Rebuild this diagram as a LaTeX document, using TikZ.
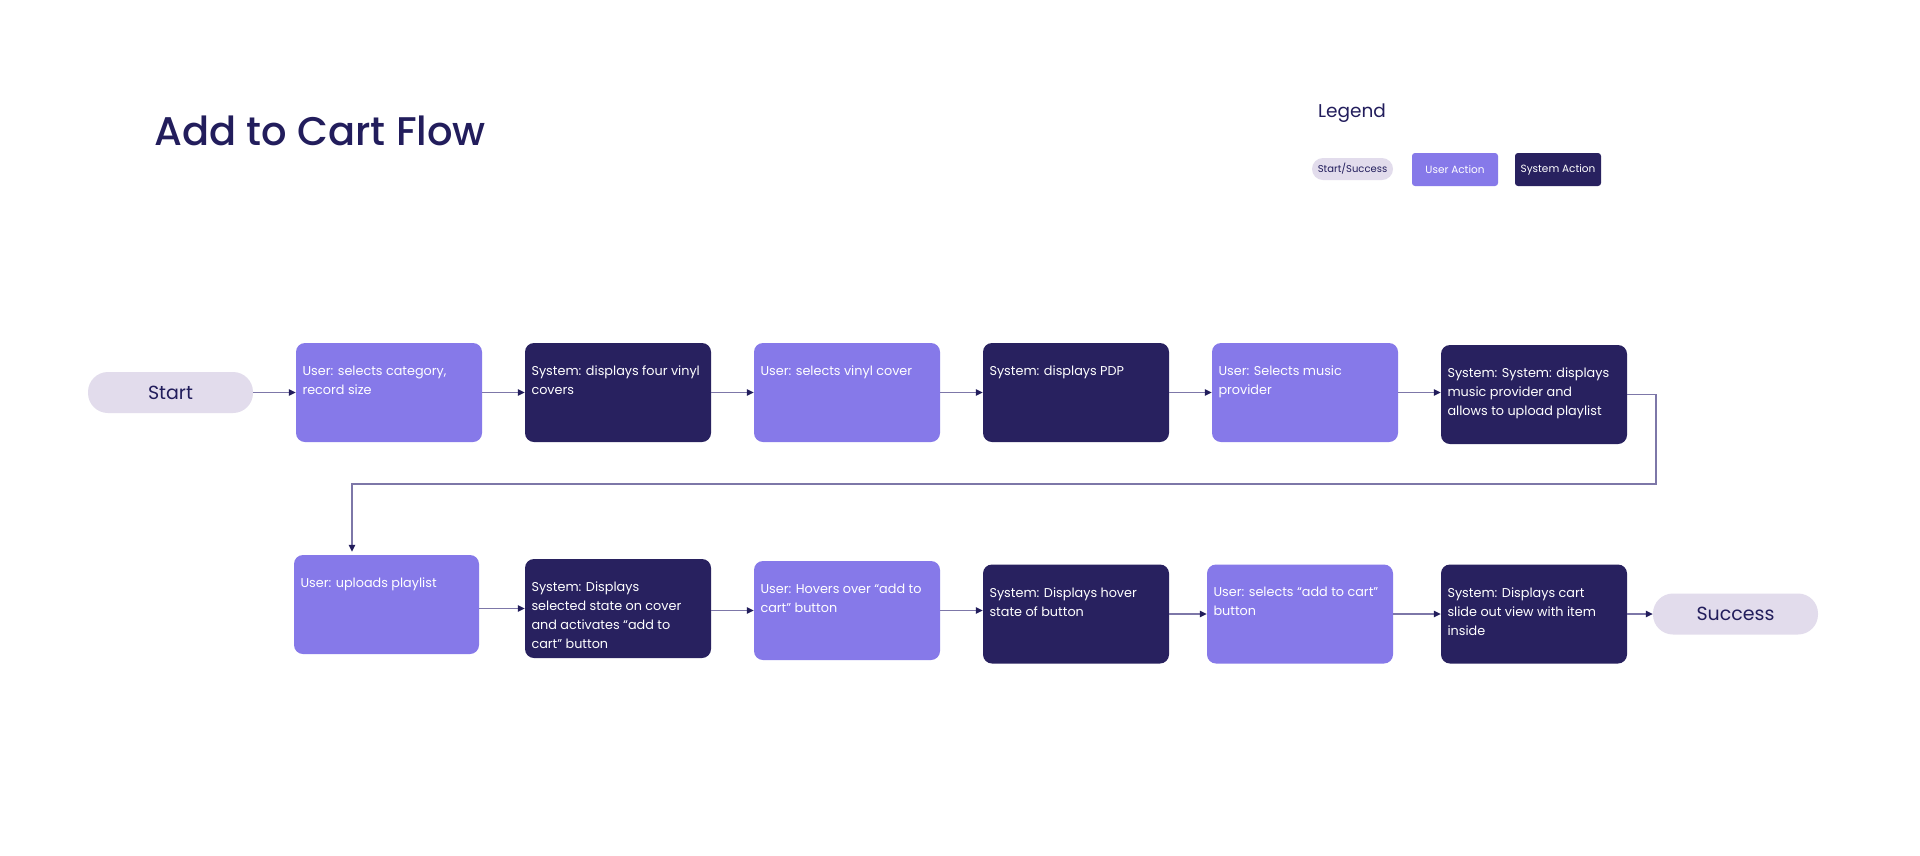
\documentclass[tikz,border=0pt]{standalone}
\usepackage{fontspec}
\setmainfont{Poppins}
\IfFontExistsTF{Poppins Medium}{\newfontfamily\titlefont{Poppins Medium}}{\newfontfamily\titlefont{Poppins}}
\usetikzlibrary{arrows.meta}

\definecolor{userpurple}{HTML}{8679E9}
\definecolor{sysnavy}{HTML}{28215F}
\definecolor{pillgray}{HTML}{E2DCEC}
\definecolor{inknavy}{HTML}{221D5C}
\definecolor{flowline}{HTML}{7D77A8}

\tikzset{
  stepbase/.style = {minimum width=186pt, minimum height=99pt, inner sep=0pt, rounded corners=9pt},
  userbox/.style = {stepbase, fill=userpurple},
  sysbox/.style = {stepbase, fill=sysnavy},
  pill/.style = {fill=pillgray, minimum width=165pt, minimum height=41pt, rounded corners=20pt,
    text=inknavy, font=\fontsize{19}{22}\selectfont},
  boxtext/.style = {anchor=north west, inner sep=0pt, align=left, text=white,
    font=\fontsize{12.8}{19}\selectfont, xshift=6.5pt, yshift=-23pt},
  flow/.style = {draw=flowline, line width=1.3pt,
    -{Triangle[length=7pt,width=6.5pt,color=inknavy]}},
}

\begin{document}
\begin{tikzpicture}[x=1pt, y=-1pt]

  \fill[white] (0,0) rectangle (1920,855);
  \useasboundingbox (0,0) rectangle (1920,855);

  % title and legend
  \node[anchor=base west, inner sep=0pt, text=inknavy, font=\titlefont\fontsize{40}{48}\selectfont] (title) at (154,145) {Add to Cart Flow};
  \node[anchor=base west, inner sep=0pt, text=inknavy, font=\fontsize{18.5}{22}\selectfont] (legend) at (1318,117) {Legend};
  \node[fill=pillgray, minimum width=81pt, minimum height=22pt, rounded corners=11pt, inner sep=0pt,
    text=inknavy, font=\fontsize{10}{12}\selectfont] (lgstart) at (1352.5,169) {Start/Success};
  \node[fill=userpurple, minimum width=86pt, minimum height=33pt, rounded corners=3pt, inner sep=0pt,
    text=white, font=\fontsize{10.5}{12}\selectfont] (lguser) at (1455,169.5) {User Action};
  \node[fill=sysnavy, minimum width=86pt, minimum height=33pt, rounded corners=3pt, inner sep=0pt,
    text=white, font=\fontsize{10.5}{12}\selectfont] (lgsys) at (1558,169.5) {System Action};

  % first row
  \node[pill] (start) at (170.5,392.5) {Start};
  \node[userbox] (b1) at (389,392.5) {};
  \node[boxtext] at (b1.north west) {User: selects category,\\record size};
  \node[sysbox] (b2) at (618,392.5) {};
  \node[boxtext] at (b2.north west) {System: displays four vinyl\\covers};
  \node[userbox] (b3) at (847,392.5) {};
  \node[boxtext] at (b3.north west) {User: selects vinyl cover};
  \node[sysbox] (b4) at (1076,392.5) {};
  \node[boxtext] at (b4.north west) {System: displays PDP};
  \node[userbox] (b5) at (1305,392.5) {};
  \node[boxtext] at (b5.north west) {User: Selects music\\provider};
  \node[sysbox] (b6) at (1534,394.5) {};
  \node[boxtext] at (b6.north west) {System: System: displays\\music provider and\\allows to upload playlist};

  % second row
  \node[userbox, minimum width=185pt] (b7) at (386.5,604.5) {};
  \node[boxtext] at (b7.north west) {User: uploads playlist};
  \node[sysbox] (b8) at (618,608.5) {};
  \node[boxtext] at (b8.north west) {System: Displays\\selected state on cover\\and activates “add to\\cart” button};
  \node[userbox] (b9) at (847,610.5) {};
  \node[boxtext] at (b9.north west) {User: Hovers over “add to\\cart” button};
  \node[sysbox] (b10) at (1076,614) {};
  \node[boxtext] at (b10.north west) {System: Displays hover\\state of button};
  \node[userbox] (b11) at (1300,614) {};
  \node[boxtext] at (b11.north west) {User: selects “add to cart”\\button};
  \node[sysbox] (b12) at (1534,614) {};
  \node[boxtext] at (b12.north west) {System: Displays cart\\slide out view with item\\inside};
  \node[pill] (success) at (1735.5,614) {Success};

  % connectors
  \draw[flow] (start) -- (b1);
  \draw[flow] (b1) -- (b2);
  \draw[flow] (b2) -- (b3);
  \draw[flow] (b3) -- (b4);
  \draw[flow] (b4) -- (b5);
  \draw[flow] (b5.east) -- (b5.east -| b6.west);

  \coordinate (wrapR) at (1656,484);
  \coordinate (wrapL) at (352,484);
  \draw[flow, shorten >=3pt] (b6.east) -| (wrapR) -- (wrapL) -- (wrapL |- b7.north);

  \draw[flow] (b7.east |- b8) -- (b8.west);
  \draw[flow] (b8.east |- b9) -- (b9.west);
  \draw[flow] (b9.east) -- (b9.east -| b10.west);
  \draw[flow] (b10) -- (b11);
  \draw[flow] (b11) -- (b12);
  \draw[flow] (b12) -- (success);

\end{tikzpicture}
\end{document}
